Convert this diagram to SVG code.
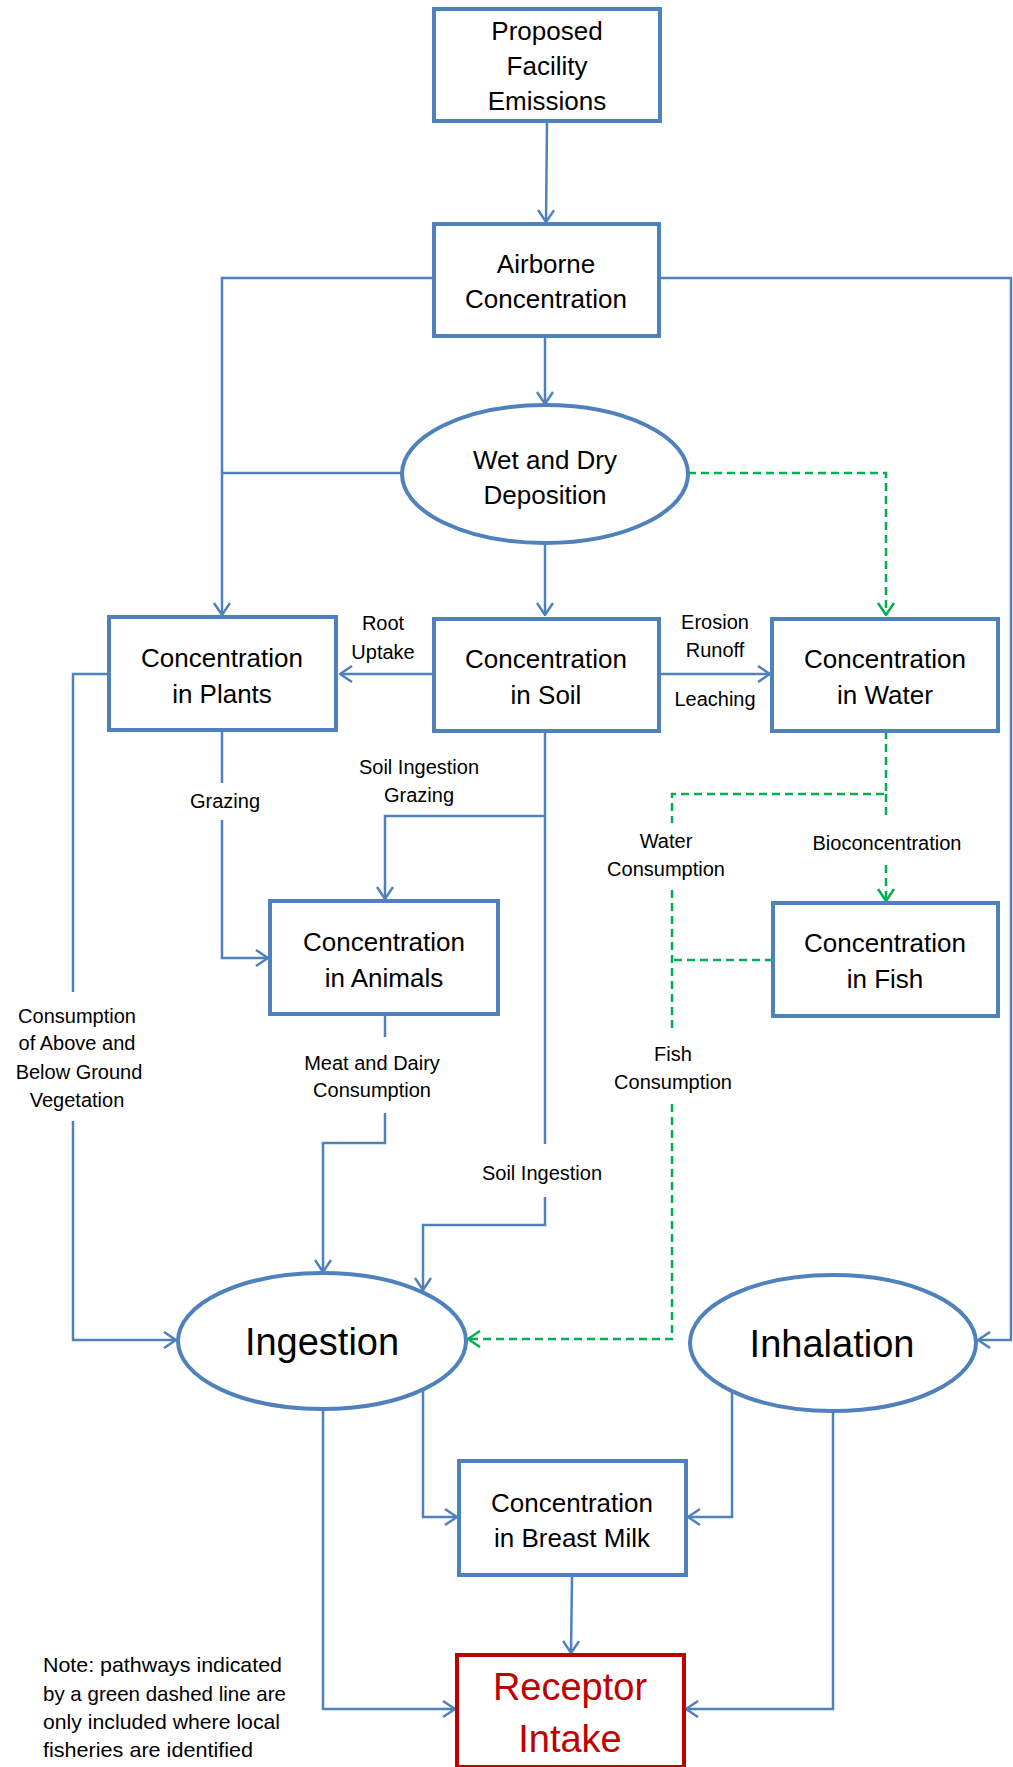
<svg xmlns="http://www.w3.org/2000/svg" width="1013" height="1767" viewBox="0 0 1013 1767">
<style>
.box{fill:#fff;stroke:#4F81BD;stroke-width:4}
.ell{fill:#fff;stroke:#4F81BD;stroke-width:4}
.red{fill:#fff;stroke:#C00000;stroke-width:4}
.t{font-family:"Liberation Sans",Arial,sans-serif;font-size:26px;fill:#000;text-anchor:middle}
.big{font-family:"Liberation Sans",Arial,sans-serif;font-size:38px;fill:#000;text-anchor:middle}
.rt{font-family:"Liberation Sans",Arial,sans-serif;font-size:38px;fill:#C00000;text-anchor:middle}
.lab{font-family:"Liberation Sans",Arial,sans-serif;font-size:20px;fill:#000;text-anchor:middle}
.note{font-family:"Liberation Sans",Arial,sans-serif;font-size:21px;fill:#000}
.c{fill:none;stroke:#4F81BD;stroke-width:2.5}
.g{fill:none;stroke:#00B050;stroke-width:2.5;stroke-dasharray:8 5}
</style>
<defs>
<marker id="ab" viewBox="0 0 14 18" refX="13" refY="9" markerWidth="14" markerHeight="18" markerUnits="userSpaceOnUse" orient="auto">
<path d="M1,1 L13,9 L1,17" fill="none" stroke="#4F81BD" stroke-width="2.5"/>
</marker>
<marker id="ag" viewBox="0 0 14 18" refX="13" refY="9" markerWidth="14" markerHeight="18" markerUnits="userSpaceOnUse" orient="auto">
<path d="M1,1 L13,9 L1,17" fill="none" stroke="#00B050" stroke-width="2.5"/>
</marker>
</defs>
<rect width="1013" height="1767" fill="#fff"/>
<g id="connectors">
<path class="c" marker-end="url(#ab)" d="M547,121 L546,222"/>
<path class="c" marker-end="url(#ab)" d="M545,336 L545,404"/>
<path class="c" marker-end="url(#ab)" d="M434,278 L222,278 L222,615"/>
<path class="c" d="M402,473 L222,473"/>
<path class="c" marker-end="url(#ab)" d="M659,278 L1011,278 L1011,1340 L978,1340"/>
<path class="g" marker-end="url(#ag)" d="M688,473 L886,473 L886,615"/>
<path class="c" marker-end="url(#ab)" d="M545,543 L545,615"/>
<path class="c" marker-end="url(#ab)" d="M434,674 L340,674"/>
<path class="c" marker-end="url(#ab)" d="M659,674 L770,674"/>
<path class="c" d="M222,731 L222,783"/>
<path class="c" marker-end="url(#ab)" d="M222,820 L222,958 L268,958"/>
<path class="c" d="M545,731 L545,1144"/>
<path class="c" marker-end="url(#ab)" d="M545,1197 L545,1225 L423,1225 L423,1290"/>
<path class="c" marker-end="url(#ab)" d="M545,816 L385,816 L385,899"/>
<path class="c" d="M385,1014 L385,1037"/>
<path class="c" marker-end="url(#ab)" d="M385,1113 L385,1143 L323,1143 L323,1272"/>
<path class="c" d="M109,674 L73,674 L73,992"/>
<path class="c" marker-end="url(#ab)" d="M73,1121 L73,1340 L176,1340"/>
<path class="g" d="M886,731 L886,794 L672,794 L672,823"/>
<path class="g" d="M672,890 L672,1031"/>
<path class="g" d="M773,960 L672,960"/>
<path class="g" marker-end="url(#ag)" d="M672,1104 L672,1339 L468,1339"/>
<path class="g" d="M886,794 L886,820"/>
<path class="g" marker-end="url(#ag)" d="M886,865 L886,901"/>
<path class="c" marker-end="url(#ab)" d="M323,1409 L323,1709 L455,1709"/>
<path class="c" marker-end="url(#ab)" d="M423,1391 L423,1517 L457,1517"/>
<path class="c" marker-end="url(#ab)" d="M732,1393 L732,1517 L688,1517"/>
<path class="c" marker-end="url(#ab)" d="M833,1411 L833,1709 L686,1709"/>
<path class="c" marker-end="url(#ab)" d="M572,1575 L571,1653"/>
</g>
<g id="labels">
<text class="lab" x="383" y="630">Root</text>
<text class="lab" x="383" y="659">Uptake</text>
<text class="lab" x="715" y="629">Erosion</text>
<text class="lab" x="715" y="657">Runoff</text>
<text class="lab" x="715" y="706">Leaching</text>
<text class="lab" x="225" y="808">Grazing</text>
<text class="lab" x="419" y="774">Soil Ingestion</text>
<text class="lab" x="419" y="802">Grazing</text>
<text class="lab" x="372" y="1070">Meat and Dairy</text>
<text class="lab" x="372" y="1097">Consumption</text>
<text class="lab" x="77" y="1023">Consumption</text>
<text class="lab" x="77" y="1050">of Above and</text>
<text class="lab" x="79" y="1079">Below Ground</text>
<text class="lab" x="77" y="1107">Vegetation</text>
<text class="lab" x="542" y="1180">Soil Ingestion</text>
<text class="lab" x="666" y="848">Water</text>
<text class="lab" x="666" y="876">Consumption</text>
<text class="lab" x="887" y="850">Bioconcentration</text>
<text class="lab" x="673" y="1061">Fish</text>
<text class="lab" x="673" y="1089">Consumption</text>
</g>
<g id="proposed">
<rect class="box" x="434" y="9" width="226" height="112"/>
<text class="t" x="547" y="40">Proposed</text>
<text class="t" x="547" y="75">Facility</text>
<text class="t" x="547" y="110">Emissions</text>
</g>
<g id="airborne">
<rect class="box" x="434" y="224" width="225" height="112"/>
<text class="t" x="546" y="273">Airborne</text>
<text class="t" x="546" y="308">Concentration</text>
</g>
<g id="deposition">
<ellipse class="ell" cx="545" cy="474" rx="143" ry="69"/>
<text class="t" x="545" y="469">Wet and Dry</text>
<text class="t" x="545" y="504">Deposition</text>
</g>
<g id="plants">
<rect class="box" x="109" y="617" width="227" height="113"/>
<text class="t" x="222" y="667">Concentration</text>
<text class="t" x="222" y="703">in Plants</text>
</g>
<g id="soil">
<rect class="box" x="434" y="619" width="225" height="112"/>
<text class="t" x="546" y="668">Concentration</text>
<text class="t" x="546" y="704">in Soil</text>
</g>
<g id="water">
<rect class="box" x="772" y="619" width="226" height="112"/>
<text class="t" x="885" y="668">Concentration</text>
<text class="t" x="885" y="704">in Water</text>
</g>
<g id="animals">
<rect class="box" x="270" y="901" width="228" height="113"/>
<text class="t" x="384" y="951">Concentration</text>
<text class="t" x="384" y="987">in Animals</text>
</g>
<g id="fish">
<rect class="box" x="773" y="903" width="225" height="113"/>
<text class="t" x="885" y="952">Concentration</text>
<text class="t" x="885" y="988">in Fish</text>
</g>
<g id="ingestion">
<ellipse class="ell" cx="322" cy="1341" rx="144" ry="68"/>
<text class="big" x="322" y="1355">Ingestion</text>
</g>
<g id="inhalation">
<ellipse class="ell" cx="833" cy="1343" rx="143" ry="68"/>
<text class="big" x="832" y="1357">Inhalation</text>
</g>
<g id="breastmilk">
<rect class="box" x="459" y="1461" width="227" height="114"/>
<text class="t" x="572" y="1512">Concentration</text>
<text class="t" x="572" y="1547">in Breast Milk</text>
</g>
<g id="receptor">
<rect class="red" x="457" y="1655" width="227" height="112"/>
<text class="rt" x="570" y="1700">Receptor</text>
<text class="rt" x="570" y="1752">Intake</text>
</g>
<g id="note">
<text class="note" x="43" y="1672" textLength="239" lengthAdjust="spacingAndGlyphs">Note: pathways indicated</text>
<text class="note" x="43" y="1701" textLength="243" lengthAdjust="spacingAndGlyphs">by a green dashed line are</text>
<text class="note" x="43" y="1729" textLength="237" lengthAdjust="spacingAndGlyphs">only included where local</text>
<text class="note" x="43" y="1757" textLength="210" lengthAdjust="spacingAndGlyphs">fisheries are identified</text>
</g>
</svg>
